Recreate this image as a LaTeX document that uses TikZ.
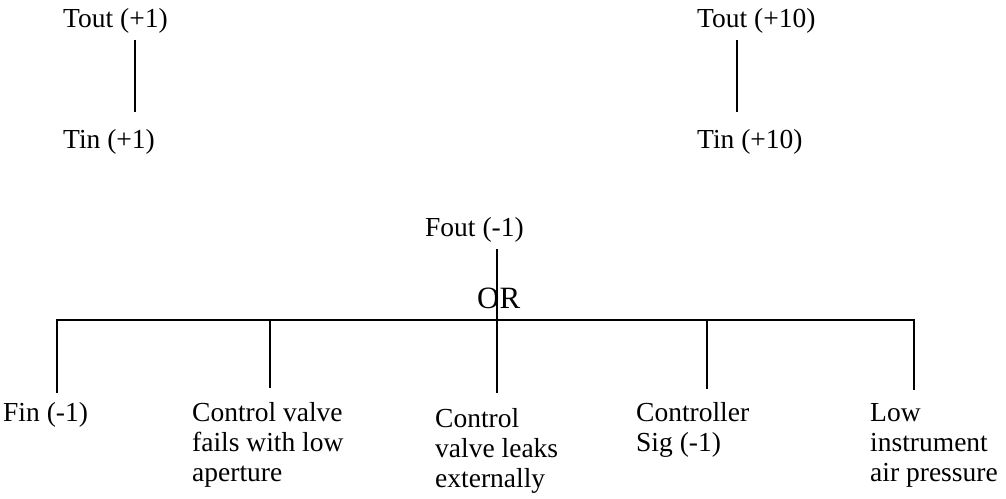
\documentclass[tikz,border=0pt]{standalone}
\usepackage{fontspec}
\setmainfont{Liberation Serif}
\begin{document}
\begin{tikzpicture}[x=1pt,y=-1pt,
  lbl/.style={anchor=base west,inner sep=0pt,font=\fontsize{27.5}{30}\selectfont},
  gatelbl/.style={anchor=base west,inner sep=0pt,font=\fontsize{31}{34}\selectfont},
  link/.style={line width=1.7pt,line cap=butt}]
\useasboundingbox (0,0) rectangle (1006,498);

% temperature pairs
\node[lbl] (toutA) at (63,27) {Tout (+1)};
\node[lbl] (tinA)  at (63,148) {Tin (+1)};
\node[lbl] (toutB) at (697,27) {Tout (+10)};
\node[lbl] (tinB)  at (697,148) {Tin (+10)};
\coordinate (a1) at (135,40);  \coordinate (a2) at (135,112);
\coordinate (b1) at (737,40);  \coordinate (b2) at (737,112);
\draw[link] (a1) -- (a2);
\draw[link] (b1) -- (b2);

% flow tree
\node[lbl] (fout) at (425,236) {Fout (-1)};
\node[gatelbl] (or) at (477,308) {OR};
\node[lbl] (fin)  at (3,421) {Fin (-1)};
\node[lbl] (cvf)  at (192,421) {\begin{tabular}[t]{@{}l@{}}Control valve\\fails with low\\aperture\end{tabular}};
\node[lbl] (cvl)  at (435,427) {\begin{tabular}[t]{@{}l@{}}Control\\valve leaks\\externally\end{tabular}};
\node[lbl] (sig)  at (636,421) {\begin{tabular}[t]{@{}l@{}}Controller\\Sig (-1)\end{tabular}};
\node[lbl] (air)  at (870,421) {\begin{tabular}[t]{@{}l@{}}Low\\instrument\\air pressure\end{tabular}};

\coordinate (foutEnd) at (497,249);
\coordinate (barL) at (57,320);
\coordinate (barR) at (914,320);
\coordinate (gate) at (497,320);
\coordinate (finEnd) at (57,393);
\coordinate (cvfTop) at (270,320); \coordinate (cvfEnd) at (270,388);
\coordinate (cvlEnd) at (497,393);
\coordinate (sigTop) at (707,320); \coordinate (sigEnd) at (707,389);
\coordinate (airEnd) at (914,390);

\draw[link] (foutEnd) -- (cvlEnd);
\draw[link] (finEnd) -- (barL) -- (barR) -- (airEnd);
\draw[link] (cvfTop) -- (cvfEnd);
\draw[link] (sigTop) -- (sigEnd);
\end{tikzpicture}
\end{document}
